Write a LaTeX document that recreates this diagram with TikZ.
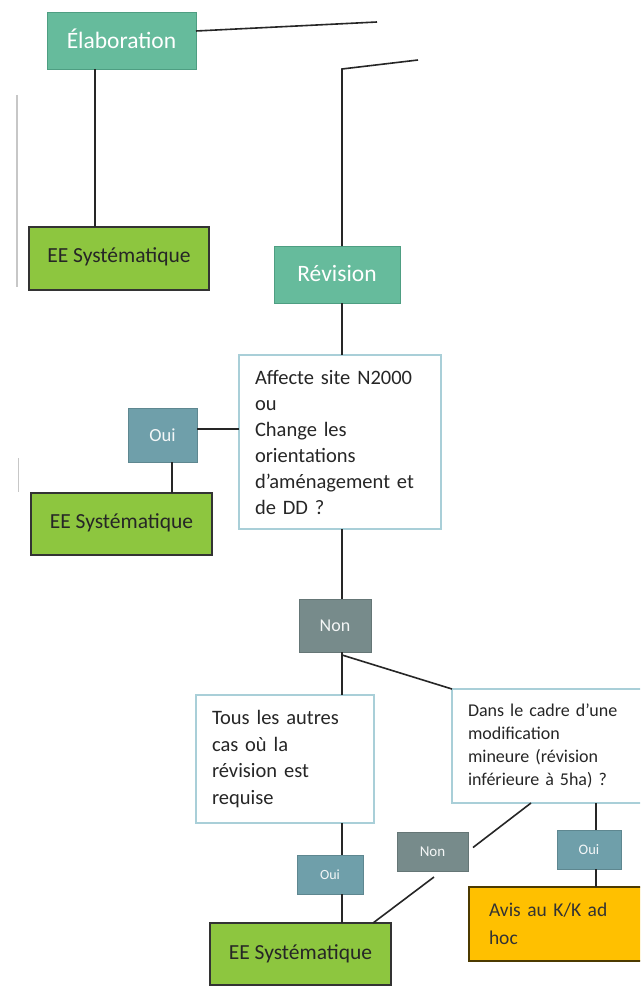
\documentclass[tikz,border=0pt]{standalone}
\usepackage{fontspec}
\setmainfont{Carlito}
\definecolor{teal1}{HTML}{66BB9C}
\definecolor{teal1d}{HTML}{4E9E82}
\definecolor{green1}{HTML}{8DC63F}
\definecolor{bluegray}{HTML}{6F9FAA}
\definecolor{darkgray1}{HTML}{778B8B}
\definecolor{qborder}{HTML}{A9CFD8}
\definecolor{orange1}{HTML}{FFC000}
\tikzset{
  box/.style={rectangle, anchor=north west, inner sep=0pt, outer sep=0pt},
  tealbox/.style={box, fill=teal1, draw=teal1d, line width=0.8pt, text=white, font=\fontsize{23.5}{26}\selectfont},
  eebox/.style={box, fill=green1, draw=black!80, line width=1.5pt, font=\fontsize{21.5}{24}\selectfont, text=black!85},
  qbox/.style={box, fill=white, draw=qborder, line width=1.5pt, align=left, text=black!85},
  ouibox/.style={box, fill=bluegray, draw=bluegray!85!black, line width=0.5pt, text=white!92!bluegray},
  nonbox/.style={box, fill=darkgray1, draw=darkgray1!85!black, line width=0.5pt, text=white!92!darkgray1},
  conn/.style={draw=black!85, line width=1.6pt},
  artifact/.style={draw=black!22, line width=1.6pt}
}
\begin{document}
\begin{tikzpicture}[x=1pt,y=-1pt]
\useasboundingbox (0,0) rectangle (640,987);
\clip (0,0) rectangle (640,987);
\fill[white] (0,0) rectangle (640,987);

% coordinates for connector routes
\coordinate (vx) at (342,0);
\coordinate (vl) at (95,0);
\coordinate (vo) at (172,0);
\coordinate (vr) at (596,0);
\coordinate (e1) at (377,22);
\coordinate (r1) at (342,69);
\coordinate (r2) at (418,60);

% left-edge grey marks
\draw[artifact] (17,95) -- (17,287);
\draw[artifact, line width=1pt] (18,458) -- (18,492);

% nodes
\node[tealbox, minimum width=149pt, minimum height=57pt] (elab) at (47,12) {\raisebox{3pt}{Élaboration}};
\node[eebox, minimum width=180pt, minimum height=63pt] (ee1) at (29,227) {\raisebox{6pt}{EE Systématique}};
\node[tealbox, minimum width=126pt, minimum height=57pt] (rev) at (274,246) {\raisebox{2pt}{Révision}};
\node[qbox, minimum width=202pt, minimum height=174pt, text width=170pt, inner xsep=16pt, font=\fontsize{20.5}{26}\selectfont] (q1) at (239,355)
  {Affecte site N2000\\ou\\Change les\\orientations\\d’aménagement et\\de DD ?};
\node[ouibox, minimum width=69pt, minimum height=54pt, font=\fontsize{18.5}{20}\selectfont] (oui1) at (128,408) {Oui};
\node[eebox, minimum width=181pt, minimum height=62pt] (ee2) at (31,493) {\raisebox{6pt}{EE Systématique}};
\node[nonbox, minimum width=72pt, minimum height=53pt, font=\fontsize{18}{20}\selectfont] (non1) at (299,599) {Non};
\node[qbox, minimum width=178pt, minimum height=128pt, text width=146pt, inner xsep=16pt, font=\fontsize{20.5}{26.5}\selectfont] (tous) at (196,695)
  {Tous les autres\\cas où la\\révision est\\requise};
\node[qbox, minimum width=200pt, minimum height=114pt, text width=168pt, inner xsep=16pt, font=\fontsize{18}{23}\selectfont] (q2) at (452,689)
  {Dans le cadre d’une\\modification\\mineure (révision\\inférieure à 5ha) ?};
\node[ouibox, minimum width=66pt, minimum height=39pt, font=\fontsize{14}{16}\selectfont] (oui2) at (297,855) {Oui};
\node[nonbox, minimum width=71pt, minimum height=39pt, font=\fontsize{15}{16}\selectfont] (non2) at (397,832) {Non};
\node[ouibox, minimum width=64pt, minimum height=39pt, font=\fontsize{14.5}{16}\selectfont] (oui3) at (557,830) {Oui};
\node[eebox, minimum width=181pt, minimum height=62pt] (ee3) at (210,923) {\raisebox{4pt}{EE Systématique}};
\node[box, fill=orange1, draw=black!70!orange1, line width=1.2pt, align=left, minimum width=200pt, minimum height=74pt, text width=160pt, inner xsep=20pt, font=\fontsize{19.5}{28}\selectfont, text=black!80] (avis) at (469,887)
  {Avis au K/K ad\\hoc};

% connectors
\draw[conn] ([yshift=9.5pt]elab.east) -- (e1);
\draw[conn] (r2) -- (r1) -- (r1 |- rev.north);
\draw[conn] (elab.south -| vl) -- (ee1.north -| vl);
\draw[conn] (vx |- rev.south) -- (vx |- q1.north);
\draw[conn] ([yshift=6pt]oui1.east) -- ([yshift=6pt]oui1.east -| q1.west);
\draw[conn] (oui1.south -| vo) -- (ee2.north -| vo);
\draw[conn] (vx |- q1.south) -- (vx |- non1.north);
\draw[conn] (vx |- non1.south) -- (vx |- tous.north);
\draw[conn] ([yshift=-3pt]vx |- non1.south) -- (q2.north west);
\draw[conn] (vx |- tous.south) -- (vx |- oui2.north);
\draw[conn] (vx |- oui2.south) -- (vx |- ee3.north);
\draw[conn] ([xshift=79pt]q2.south west) -- ([xshift=5pt,yshift=4pt]non2.east);
\draw[conn] ([xshift=1.5pt,yshift=-6pt]non2.south) -- ([xshift=-18pt]ee3.north east);
\draw[conn] (vr |- q2.south) -- (vr |- oui3.north);
\draw[conn] (vr |- oui3.south) -- (vr |- avis.north);
\end{tikzpicture}
\end{document}
